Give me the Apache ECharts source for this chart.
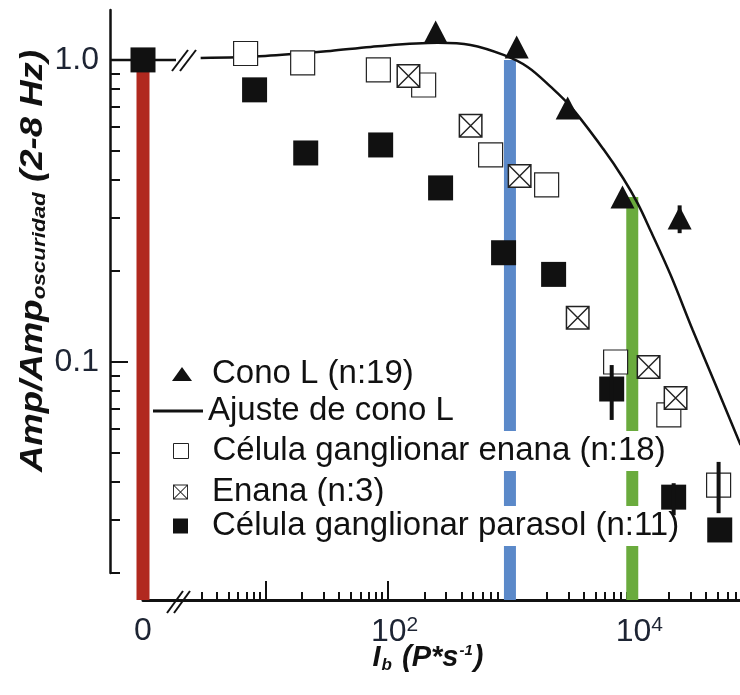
<!DOCTYPE html>
<html>
<head>
<meta charset="utf-8">
<script src="https://cdn.jsdelivr.net/npm/echarts@6/dist/echarts.min.js"></script>
<style>
  html, body { margin: 0; padding: 0; background: #fff; }
  #chart { width: 740px; height: 695px; }
</style>
</head>
<body>
<div id="chart"></div>
<script>
// values (I_b in P*s^-1, amplitude relative to darkness)
const fitI   = [2.96, 10, 34.1, 72.6, 256, 476, 886, 1395, 2160, 3150, 5840, 8450, 11070, 14120, 20590, 31190, 48100, 76900];
const fitAmp = [1.015, 1.031, 1.071, 1.104, 1.139, 1.121, 1.039, 0.948, 0.814, 0.699, 0.505, 0.405, 0.335, 0.272, 0.194, 0.1276, 0.0839, 0.0531];
const fitAtZero = 1.0;

const conoI   = [247, 1135, 2965, 8320, 24400];
const conoAmp = [1.238, 1.104, 0.693, 0.352, 0.300];
const conoErr = [[24400, 0.267, 0.33]];

const enanaCelI   = [6.9, 20.2, 84, 197, 695, 1995, 7310, 19900, 50800];
const enanaCelAmp = [1.05, 0.977, 0.927, 0.826, 0.485, 0.386, 0.100, 0.0668, 0.0391];
const enanaCelErr = [[50800, 0.0316, 0.0467]];

const enanaI   = [148, 477, 1200, 3580, 13600, 22600];
const enanaAmp = [0.885, 0.605, 0.413, 0.14, 0.0962, 0.076];

const parasolI   = [8.17, 21.4, 87.7, 271, 887, 2275, 6790, 21800, 51900];
const parasolAmp = [0.796, 0.492, 0.523, 0.377, 0.23, 0.195, 0.0814, 0.0357, 0.0278];
const parasolErr = [[6790, 0.0643, 0.0977], [21800, 0.0311, 0.0397]];
const atZeroAmp = 1.0;   // every group normalised to 1 at I_b = 0

// highlighted intensities (vertical bands) and their heights
const bandI   = [1000, 10000];
const bandTop = [1.0, 0.352];
const bandColors = ['#5b89c9', '#6aab3d'];
const zeroBandTop = 1.0;

// axis ticks and labels
const xMajor  = [10, 100, 1000, 10000];
const xLabels = [100, 10000];
const xMinor  = [];
[1, 10, 100, 1000, 10000].forEach(d => {
  for (let k = 2; k <= 9; k++) if (d * k >= 3 && d * k <= 76000) xMinor.push(d * k);
});
const yMajor = [0.1, 1];
const yMinor = [];
for (let k = 2; k <= 9; k++) { yMinor.push(k / 100, k / 10); }

const X_MIN = 1, X_MAX = 76000;
const Y_MAX = 1.463, Y_MIN = 0.0163, Y_AXIS_MIN = 0.02;
const ZERO_MIN = -1, ZERO_MAX = 1;

const FONT = '"Liberation Sans", Arial, sans-serif';
const INK = '#111';
const CROSS_PATH = 'path://M0,0H24V24H0Z M1.5,1.5V22.5H22.5V1.5Z M2,1L23,22L22,23L1,2Z M22,1L23,2L2,23L1,22Z';

const chart = echarts.init(document.getElementById('chart'));

const tickStyle = { color: INK, width: 2 };
const labelFont = { fontFamily: FONT, fontSize: 32, color: '#1d2433' };

function errBars(data, xIdx, yIdx) {
  return {
    type: 'custom', xAxisIndex: xIdx, yAxisIndex: yIdx, z: 8, silent: true,
    data: data, encode: { x: 0, y: [1, 2] },
    renderItem: (params, api) => {
      const a = api.coord([api.value(0), api.value(1)]);
      const b = api.coord([api.value(0), api.value(2)]);
      return { type: 'line', shape: { x1: a[0], y1: a[1], x2: b[0], y2: b[1] }, style: { stroke: INK, lineWidth: 4 } };
    }
  };
}

function band(x, top, color, xIdx, yIdx, width) {
  return {
    type: 'line', xAxisIndex: xIdx, yAxisIndex: yIdx, z: 1, silent: true,
    symbol: 'none', data: [[x, Y_MIN], [x, top]],
    lineStyle: { color: color, width: width, cap: 'butt' }
  };
}

const legendText = { fontFamily: FONT, fontSize: 33, color: INK, lineHeight: 36, backgroundColor: '#fff' };
function legendRow(name, left, cy, w, h, padLeft, item) {
  return {
    left: left, top: cy - 20, padding: 0, selectedMode: false,
    itemWidth: w, itemHeight: h,
    data: [Object.assign({ name: name }, item)],
    textStyle: Object.assign({}, legendText, { padding: [2, 4, 2, padLeft] })
  };
}

const option = {
  animation: false,
  backgroundColor: '#fff',
  grid: [
    { left: 110, top: 10, width: 20, height: 563 },
    { left: 110, top: 10, width: 66, height: 590 },
    { left: 143, top: 10, width: 597, height: 590 }
  ],
  xAxis: [
    { gridIndex: 0, type: 'value', show: false },
    {
      gridIndex: 1, type: 'value', min: ZERO_MIN, max: ZERO_MAX, position: 'bottom',
      axisLine: { show: false, onZero: false }, splitLine: { show: false },
      axisTick: { customValues: [0], inside: true, length: 20, lineStyle: tickStyle },
      axisLabel: Object.assign({ customValues: [0], formatter: () => '0', margin: 15 }, labelFont)
    },
    {
      gridIndex: 2, type: 'log', min: X_MIN, max: X_MAX, position: 'bottom',
      axisLine: { onZero: false, lineStyle: { color: INK, width: 3 } },
      splitLine: { show: false },
      axisTick: { customValues: xMajor, inside: true, length: 19, lineStyle: tickStyle },
      axisLabel: {
        customValues: xLabels, margin: 15, padding: [0, 0, 0, 14],
        formatter: v => '{b|10}{s|' + Math.round(Math.log10(v)) + '}',
        rich: {
          b: Object.assign({ lineHeight: 34 }, labelFont),
          s: Object.assign({}, labelFont, { fontSize: 21, lineHeight: 20, verticalAlign: 'top' })
        }
      }
    },
    {
      gridIndex: 2, type: 'log', min: X_MIN, max: X_MAX, position: 'bottom',
      axisLine: { show: false, onZero: false }, splitLine: { show: false },
      axisTick: { customValues: xMinor, inside: true, length: 8, lineStyle: tickStyle },
      axisLabel: { show: false }
    }
  ],
  yAxis: [
    {
      gridIndex: 0, type: 'log', min: Y_AXIS_MIN, max: Y_MAX, position: 'left',
      axisLine: { onZero: false, lineStyle: { color: INK, width: 2.5 } },
      splitLine: { show: false },
      axisTick: { customValues: yMajor, inside: true, length: 18, lineStyle: tickStyle },
      axisLabel: Object.assign({ customValues: yMajor, margin: 11, formatter: v => v.toFixed(1) }, labelFont)
    },
    {
      gridIndex: 0, type: 'log', min: Y_AXIS_MIN, max: Y_MAX, position: 'left',
      axisLine: { show: false, onZero: false }, splitLine: { show: false },
      axisTick: { customValues: yMinor, inside: true, length: 10, lineStyle: tickStyle },
      axisLabel: { show: false }
    },
    { gridIndex: 1, type: 'log', min: Y_MIN, max: Y_MAX, show: false },
    { gridIndex: 2, type: 'log', min: Y_MIN, max: Y_MAX, show: false }
  ],
  legend: [
    legendRow('Cono L (n:19)', 172, 374, 20, 14, 15, { icon: 'triangle', itemStyle: { color: INK } }),
    legendRow('Ajuste de cono L', 153, 411, 50, 3, 0, { icon: 'rect', itemStyle: { color: INK } }),
    legendRow('Célula ganglionar enana (n:18)', 173, 451, 15, 15, 19,
      { icon: 'rect', itemStyle: { color: '#fff', borderColor: '#222', borderWidth: 1 } }),
    legendRow('Enana (n:3)', 173, 492, 15, 15, 19, { icon: CROSS_PATH, itemStyle: { color: '#222' } }),
    legendRow('Célula ganglionar parasol (n:11)', 173, 526, 15, 15, 19, { icon: 'rect', itemStyle: { color: INK } })
  ],
  series: [
    band(0, zeroBandTop, '#b1291f', 1, 2, 13),
    band(bandI[0], bandTop[0], bandColors[0], 2, 3, 12),
    band(bandI[1], bandTop[1], bandColors[1], 2, 3, 12),
    {
      name: 'Ajuste de cono L', type: 'line', xAxisIndex: 1, yAxisIndex: 2, z: 3,
      symbol: 'none', data: [[ZERO_MIN, fitAtZero], [ZERO_MAX, fitAtZero]],
      lineStyle: { color: INK, width: 2.5 }
    },
    {
      name: 'Ajuste de cono L', type: 'line', xAxisIndex: 2, yAxisIndex: 3, z: 3,
      symbol: 'none', smooth: 0.35, data: fitI.map((x, i) => [x, fitAmp[i]]),
      lineStyle: { color: INK, width: 2.5 }
    },
    {
      name: 'Célula ganglionar enana (n:18)', type: 'scatter', xAxisIndex: 2, yAxisIndex: 3, z: 4,
      symbol: 'rect', symbolSize: 24, data: enanaCelI.map((x, i) => [x, enanaCelAmp[i]]),
      itemStyle: { color: '#fff', borderColor: '#222', borderWidth: 1.2, opacity: 1 }
    },
    {
      name: 'Enana (n:3)', type: 'scatter', xAxisIndex: 2, yAxisIndex: 3, z: 6,
      symbol: CROSS_PATH, symbolSize: 24, data: enanaI.map((x, i) => [x, enanaAmp[i]]),
      itemStyle: { color: '#222', opacity: 1 }
    },
    {
      name: 'Enana (n:3)', type: 'scatter', xAxisIndex: 2, yAxisIndex: 3, z: 5,
      symbol: 'rect', symbolSize: 23, data: enanaI.map((x, i) => [x, enanaAmp[i]]),
      itemStyle: { color: '#fff', opacity: 1 }
    },
    {
      name: 'Cono L (n:19)', type: 'scatter', xAxisIndex: 1, yAxisIndex: 2, z: 6,
      symbol: 'triangle', symbolSize: [24, 23], data: [[0, atZeroAmp]],
      itemStyle: { color: INK, opacity: 1 }
    },
    {
      name: 'Cono L (n:19)', type: 'scatter', xAxisIndex: 2, yAxisIndex: 3, z: 6,
      symbol: 'triangle', symbolSize: [24, 23], data: conoI.map((x, i) => [x, conoAmp[i]]),
      itemStyle: { color: INK, opacity: 1 }
    },
    {
      name: 'Célula ganglionar parasol (n:11)', type: 'scatter', xAxisIndex: 1, yAxisIndex: 2, z: 7,
      symbol: 'rect', symbolSize: 25, data: [[0, atZeroAmp]],
      itemStyle: { color: INK, opacity: 1 }
    },
    {
      name: 'Célula ganglionar parasol (n:11)', type: 'scatter', xAxisIndex: 2, yAxisIndex: 3, z: 7,
      symbol: 'rect', symbolSize: 25, data: parasolI.map((x, i) => [x, parasolAmp[i]]),
      itemStyle: { color: INK, opacity: 1 }
    },
    errBars(parasolErr, 2, 3),
    errBars(enanaCelErr, 2, 3),
    errBars(conoErr, 2, 3)
  ],
  graphic: [
    { type: 'line', z: 10, shape: { x1: 167, y1: 613, x2: 183, y2: 591 }, style: { stroke: INK, lineWidth: 2 } },
    { type: 'line', z: 10, shape: { x1: 174, y1: 613, x2: 190, y2: 591 }, style: { stroke: INK, lineWidth: 2 } },
    { type: 'line', z: 10, shape: { x1: 172, y1: 71, x2: 188, y2: 50 }, style: { stroke: INK, lineWidth: 2 } },
    { type: 'line', z: 10, shape: { x1: 180, y1: 71, x2: 196, y2: 50 }, style: { stroke: INK, lineWidth: 2 } },
    {
      type: 'text', x: 33, y: 261, rotation: Math.PI / 2, scaleX: 1.18, z: 10,
      style: {
        text: 'Amp/Amp{s|oscuridad} (2-8 Hz)',
        font: 'italic bold 31px "Liberation Sans", Arial, sans-serif',
        align: 'center', verticalAlign: 'middle', fill: INK, lineHeight: 36,
        rich: {
          s: { font: 'italic bold 19px "Liberation Sans", Arial, sans-serif', lineHeight: 36, padding: [14, 0, 0, 0] }
        }
      }
    },
    {
      type: 'text', x: 428, y: 658, z: 10,
      style: {
        text: 'I{s|b} (P*s{p|-1})',
        font: 'italic bold 29px "Liberation Sans", Arial, sans-serif',
        align: 'center', verticalAlign: 'middle', fill: INK, lineHeight: 34,
        rich: {
          s: { font: 'italic bold 17px "Liberation Sans", Arial, sans-serif', lineHeight: 34, padding: [14, 2, 0, 1] },
          p: { font: 'italic bold 15px "Liberation Sans", Arial, sans-serif', lineHeight: 34, padding: [0, 1, 14, 1] }
        }
      }
    }
  ]
};

chart.setOption(option);
</script>
</body>
</html>
